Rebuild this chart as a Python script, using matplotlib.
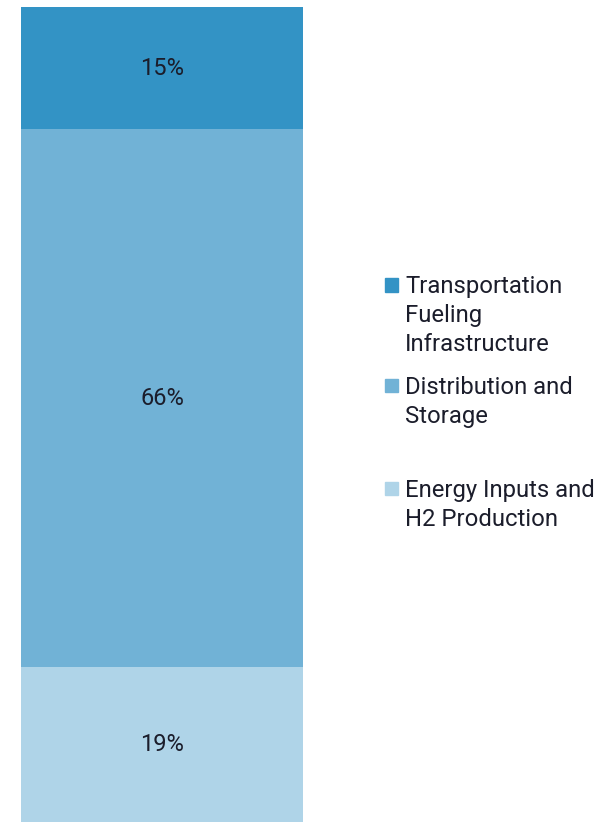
import matplotlib.pyplot as plt
import matplotlib.patches as mpatches

plt.rcParams['font.family'] = ['Roboto', 'DejaVu Sans']

# stacked shares, bottom to top
categories = ['Energy Inputs and\nH2 Production',
              'Distribution and\nStorage',
              'Transportation\nFueling\nInfrastructure']
shares = [19, 66, 15]
colors = ['#afd4e8', '#71b2d6', '#3393c5']
text_color = '#1b1d2b'

fig = plt.figure(figsize=(6.14, 8.22), dpi=100)
ax = fig.add_axes([21 / 614, 0, 282 / 614, 1 - 7 / 822])

bottom = 0
for share, color in zip(shares, colors):
    ax.bar(0, share, width=1, bottom=bottom, color=color, linewidth=0)
    ax.text(0, bottom + share / 2, f'{share}%', ha='center', va='center',
            fontsize=17, color=text_color)
    bottom += share

ax.set_xlim(-0.5, 0.5)
ax.set_ylim(0, sum(shares))
ax.axis('off')

# legend, top entry first
legend_y = [285, 386, 489]
for label, color, y in zip(categories[::-1], colors[::-1], legend_y):
    yf = 1 - y / 822
    fig.patches.append(mpatches.Rectangle((385 / 614, yf - 6.5 / 822), 13 / 614, 13 / 822,
                                          color=color, transform=fig.transFigure))
    fig.text(405 / 614, yf + 10 / 822, label, ha='left', va='top', fontsize=17.2,
             color=text_color, linespacing=1.34)

fig.savefig('out.png', dpi=100)
